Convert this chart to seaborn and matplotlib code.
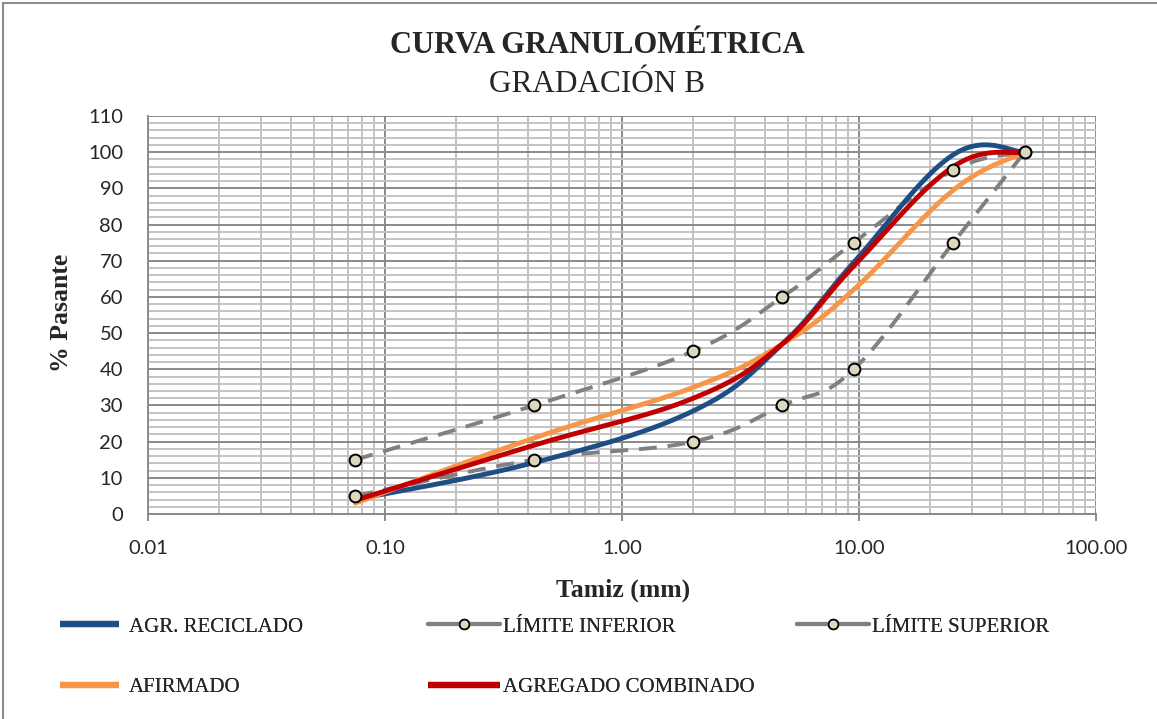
import matplotlib
matplotlib.use('Agg')
import matplotlib.pyplot as plt
from matplotlib.lines import Line2D
from matplotlib.ticker import FixedLocator, FuncFormatter, MultipleLocator
import numpy as np
import pandas as pd
import seaborn as sns

# Sieve openings (mm) and percent passing for each series
sieves = [0.075, 0.425, 2.0, 4.75, 9.5, 25.0, 50.0]
agr_reciclado = [4.0, 14.2, 28.5, 47.0, 69.5, 99.3, 100.0]
limite_inferior = [5, 15, 20, 30, 40, 75, 100]
limite_superior = [15, 30, 45, 60, 75, 95, 100]
afirmado = [3.0, 21.0, 35.0, 47.0, 62.0, 89.5, 100.0]
agregado_combinado = [3.8, 19.0, 32.0, 47.0, 68.5, 96.0, 100.0]

y_ticks = list(range(0, 111, 10))
x_ticks = [0.01, 0.1, 1, 10, 100]

BLUE = '#1f4e85'
ORANGE = '#f79646'
RED = '#c00000'
GRAY = '#808080'
MARKER_FILL = '#ddd8bd'


# Excel-like smoothed line: cubic bezier through the points in (log x, y) space
def smooth(x, y, f=0.19, n=60):
    pts = np.column_stack([np.log10(x), np.asarray(y, dtype=float)])
    P = np.vstack([pts[0], pts, pts[-1]])
    t = np.linspace(0, 1, n)[:, None]
    segs = []
    for i in range(len(pts) - 1):
        p0, p1, p2, p3 = P[i], P[i + 1], P[i + 2], P[i + 3]
        b1 = p1 + (p2 - p0) * f
        b2 = p2 - (p3 - p1) * f
        seg = (1 - t) ** 3 * p1 + 3 * (1 - t) ** 2 * t * b1 + 3 * (1 - t) * t ** 2 * b2 + t ** 3 * p2
        segs.append(seg if i == 0 else seg[1:])
    s = np.vstack(segs)
    return pd.DataFrame({'x': 10 ** s[:, 0], 'y': s[:, 1]})


sns.set_style('white')
plt.rcParams['font.family'] = ['Lato', 'DejaVu Sans']

fig = plt.figure(figsize=(11.57, 7.19), dpi=100)
ax = fig.add_axes([148 / 1157, 1 - 514 / 719, (1096 - 148) / 1157, (514 - 116) / 719])

# limits (dashed, smoothed) with markers at the sieves
for vals in (limite_inferior, limite_superior):
    sns.lineplot(data=smooth(sieves, vals), x='x', y='y', ax=ax, color=GRAY, lw=2.8,
                 estimator=None, sort=False, zorder=3).lines[-1].set_dashes((4.6, 2.8))
    ax.plot(sieves, vals, ls='none', marker='o', ms=8.5, mfc=MARKER_FILL, mec='black',
            mew=1.4, zorder=6)

for vals, col in ((agr_reciclado, BLUE), (afirmado, ORANGE), (agregado_combinado, RED)):
    sns.lineplot(data=smooth(sieves, vals), x='x', y='y', ax=ax, color=col, lw=3.5,
                 estimator=None, sort=False, zorder=4)

ax.set_xscale('log')
ax.set_xlim(0.01, 100)
ax.set_ylim(0, 110)
ax.xaxis.set_major_locator(FixedLocator(x_ticks))
ax.xaxis.set_minor_locator(FixedLocator([m * 10.0 ** e for e in range(-2, 2) for m in range(2, 10)]))
ax.xaxis.set_major_formatter(FuncFormatter(lambda v, p: f'{v:.2f}'))
ax.xaxis.set_minor_formatter(FuncFormatter(lambda v, p: ''))
ax.yaxis.set_major_locator(FixedLocator(y_ticks))
ax.yaxis.set_minor_locator(MultipleLocator(2))

ax.grid(which='minor', color='#c3c3c3', lw=1.4, zorder=0)
ax.grid(which='major', color='#8a8a8a', lw=1.4, zorder=1)
ax.set_axisbelow(True)
for side in ('top', 'right'):
    ax.spines[side].set_visible(False)
for side in ('left', 'bottom'):
    ax.spines[side].set_color('#8a8a8a')
    ax.spines[side].set_linewidth(1.4)

ax.tick_params(axis='x', which='major', length=5, width=1.4, color='#8a8a8a', pad=14,
               labelsize=14.5, bottom=True, direction='out')
ax.tick_params(axis='x', which='minor', length=0)
ax.tick_params(axis='y', which='both', length=0, pad=18, labelsize=14.5)
ax.set_xlabel('')
ax.set_ylabel('')

# titles and axis labels
fig.text(597 / 1157, 1 - 53 / 719, 'CURVA GRANULOMÉTRICA', ha='center', va='baseline',
         family='Liberation Serif', weight='bold', size=22)
fig.text(597 / 1157, 1 - 92 / 719, 'GRADACIÓN B', ha='center', va='baseline',
         family='Liberation Serif', size=22.5)
fig.text(623 / 1157, 1 - 597 / 719, 'Tamiz (mm)', ha='center', va='baseline',
         family='Liberation Serif', weight='bold', size=18.5)
fig.text(62 / 1157, 1 - 313 / 719, '% Pasante', ha='center', va='center', rotation=90,
         family='Liberation Serif', weight='bold', size=18.5)

# legend, built as three columns like the reference
def h_line(col):
    return Line2D([], [], color=col, lw=4.5, solid_capstyle='butt')


def h_limit():
    return Line2D([], [], color=GRAY, lw=3, marker='o', ms=7, mfc=MARKER_FILL, mec='black', mew=1.2)


leg_font = {'family': 'Liberation Serif', 'size': 15}
columns = [
    (60, [h_line(BLUE), h_line(ORANGE)], ['AGR. RECICLADO', 'AFIRMADO'], 2.85, 0.45),
    (428, [h_limit(), h_line(RED)], ['LÍMITE INFERIOR', 'AGREGADO COMBINADO'], 3.45, 0.15),
    (797, [h_limit()], ['LÍMITE SUPERIOR'], 3.45, 0.15),
]
for x0, handles, labels, hl, tp in columns:
    leg = fig.legend(handles, labels, loc='upper left', bbox_to_anchor=(x0 / 1157, 1 - 617 / 719),
                     frameon=False, prop=leg_font, handlelength=hl, handletextpad=tp,
                     labelspacing=1.95, borderpad=0, borderaxespad=0)
    fig.add_artist(leg)

# outer chart border (top and left visible)
fig.add_artist(Line2D([3 / 1157, 3 / 1157], [0, 1 - 3 / 719], transform=fig.transFigure,
                      color='#8c8c8c', lw=1.5))
fig.add_artist(Line2D([3 / 1157, 1], [1 - 3 / 719, 1 - 3 / 719], transform=fig.transFigure,
                      color='#8c8c8c', lw=1.5))

fig.savefig('out.png', dpi=100, facecolor='white')
